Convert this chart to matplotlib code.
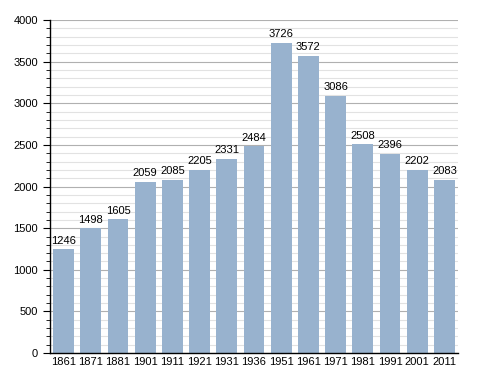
import matplotlib.pyplot as plt
from matplotlib.ticker import MultipleLocator

plt.rcParams['font.family'] = ['Liberation Sans', 'DejaVu Sans']

years = ["1861", "1871", "1881", "1901", "1911", "1921", "1931", "1936",
         "1951", "1961", "1971", "1981", "1991", "2001", "2011"]
population = [1246, 1498, 1605, 2059, 2085, 2205, 2331, 2484,
              3726, 3572, 3086, 2508, 2396, 2202, 2083]

fig = plt.figure(figsize=(4.88, 3.73), dpi=100)
ax = fig.add_axes([0.1025, 0.0536, 0.836, 0.8924])

x = range(len(years))
ax.bar(x, population, width=0.77, color="#98b2ce", zorder=2)
for xi, v in zip(x, population):
    ax.text(xi, v + 45, str(v), ha="center", va="bottom", fontsize=8,
            color="black", zorder=3)

ax.set_xlim(-0.5, len(years) - 0.5)
ax.set_ylim(0, 4000)
ax.yaxis.set_major_locator(MultipleLocator(500))
ax.yaxis.set_minor_locator(MultipleLocator(100))
ax.grid(axis="y", which="major", color="#b0b0b0", linewidth=0.8, zorder=0)
ax.grid(axis="y", which="minor", color="#e2e2e2", linewidth=0.8, zorder=0)

ax.set_xticks(list(x))
ax.set_xticklabels(years)
ax.tick_params(axis="x", length=0, labelsize=8, pad=3)
ax.tick_params(axis="y", which="major", length=5, labelsize=8)
ax.tick_params(axis="y", which="minor", length=3)

for s in ["top", "right"]:
    ax.spines[s].set_visible(False)
ax.spines["left"].set_linewidth(1)
ax.spines["bottom"].set_linewidth(1)

fig.savefig("out.png", dpi=100)
